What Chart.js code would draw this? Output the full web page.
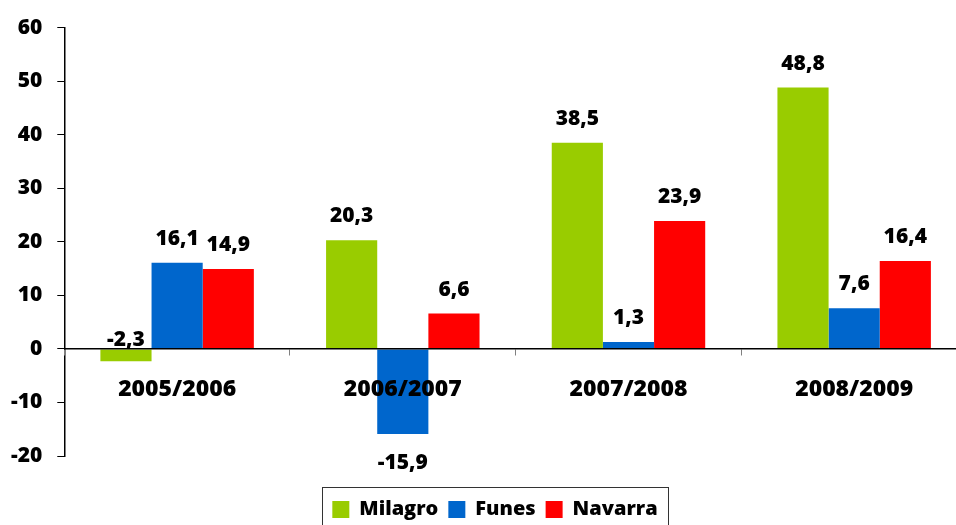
<!DOCTYPE html>
<html lang="es">
<head>
    <meta charset="UTF-8">
    <title>Milagro, Funes, Navarra</title>
    <style>
        body {
            margin: 0;
            overflow: hidden;
            background: #fff;
        }
        .chart-box {
            width: 990px;
            height: 525px;
        }
    </style>
</head>
<body>
    <div class="chart-box">
        <canvas id="chart"></canvas>
    </div>
    <script src="https://cdn.jsdelivr.net/npm/chart.js"></script>
    <script>
        const categories = ['2005/2006', '2006/2007', '2007/2008', '2008/2009'];
        const milagro = [-2.3, 20.3, 38.5, 48.8];
        const funes = [16.1, -15.9, 1.3, 7.6];
        const navarra = [14.9, 6.6, 23.9, 16.4];
        const yTicks = { min: -20, max: 60, step: 10 };

        const FONT = '"Open Sans"';
        const fmt = v => v.toFixed(1).replace('.', ',');

        // value labels over / under each bar
        const valueLabels = {
            id: 'valueLabels',
            afterDatasetsDraw(chart) {
                const ctx = chart.ctx;
                ctx.save();
                ctx.font = '800 21px ' + FONT;
                ctx.fillStyle = '#000';
                ctx.textAlign = 'center';
                ctx.textBaseline = 'alphabetic';
                chart.data.datasets.forEach((ds, i) => {
                    chart.getDatasetMeta(i).data.forEach((bar, j) => {
                        const v = ds.data[j];
                        let y;
                        if (v >= 0) {
                            y = bar.y - 18;
                        } else if (bar.y - bar.base < 30) {
                            y = bar.base - 3;
                        } else {
                            y = bar.y + 35;
                        }
                        ctx.fillText(fmt(v), bar.x, y);
                    });
                });
                ctx.restore();
            }
        };

        // legend sits a bit right of the canvas centre, with a frame round it
        const legendFrame = {
            id: 'legendFrame',
            afterLayout(chart) {
                const lg = chart.legend;
                if (!lg) return;
                lg.left += 13.5;
                lg.right += 13.5;
            },
            afterDraw(chart) {
                const boxes = chart.legend && chart.legend.legendHitBoxes;
                if (!boxes || !boxes.length) return;
                const first = boxes[0];
                const last = boxes[boxes.length - 1];
                const ctx = chart.ctx;
                ctx.save();
                ctx.strokeStyle = '#333';
                ctx.lineWidth = 1;
                ctx.strokeRect(Math.round(first.left - 10) + 0.5, Math.round(first.top - 12.5) + 0.5,
                    Math.round(last.left + last.width - first.left + 21), 80);
                ctx.restore();
            }
        };

        new Chart(document.getElementById('chart'), {
            type: 'bar',
            data: {
                labels: categories,
                datasets: [
                    { label: 'Milagro', data: milagro, backgroundColor: '#99CC00', borderWidth: 0 },
                    { label: 'Funes', data: funes, backgroundColor: '#0066CC', borderWidth: 0 },
                    { label: 'Navarra', data: navarra, backgroundColor: '#FF0000', borderWidth: 0 }
                ]
            },
            options: {
                responsive: true,
                maintainAspectRatio: false,
                animation: false,
                categoryPercentage: 0.68,
                barPercentage: 1,
                layout: {
                    padding: { left: -4, right: 23, top: 27, bottom: -4.5 }
                },
                scales: {
                    x: {
                        position: { y: 0 },
                        afterFit: scale => { scale.height = 0; },
                        grid: {
                            drawOnChartArea: false,
                            tickLength: 6,
                            tickColor: '#808080',
                            offset: true,
                            z: 1
                        },
                        border: { color: '#000', width: 1.5, z: 1 },
                        ticks: {
                            color: '#000',
                            padding: 21,
                            maxRotation: 0,
                            font: { family: FONT, size: 23, weight: '800' },
                            z: 1
                        }
                    },
                    y: {
                        min: yTicks.min,
                        max: yTicks.max,
                        grid: {
                            drawOnChartArea: false,
                            tickLength: 7,
                            tickColor: '#000'
                        },
                        border: { color: '#000', width: 1.5 },
                        ticks: {
                            stepSize: yTicks.step,
                            color: '#000',
                            padding: 15,
                            font: { family: FONT, size: 21, weight: '800' }
                        }
                    }
                },
                plugins: {
                    tooltip: { enabled: false },
                    legend: {
                        position: 'bottom',
                        title: { display: true, text: '', padding: { top: 21.5, bottom: 0 }, font: { size: 10 } },
                        labels: {
                            color: '#000',
                            boxWidth: 17,
                            boxHeight: 17,
                            padding: 10,
                            font: { family: FONT, size: 20, weight: '800' }
                        }
                    }
                }
            },
            plugins: [valueLabels, legendFrame]
        });
    </script>
</body>
</html>
